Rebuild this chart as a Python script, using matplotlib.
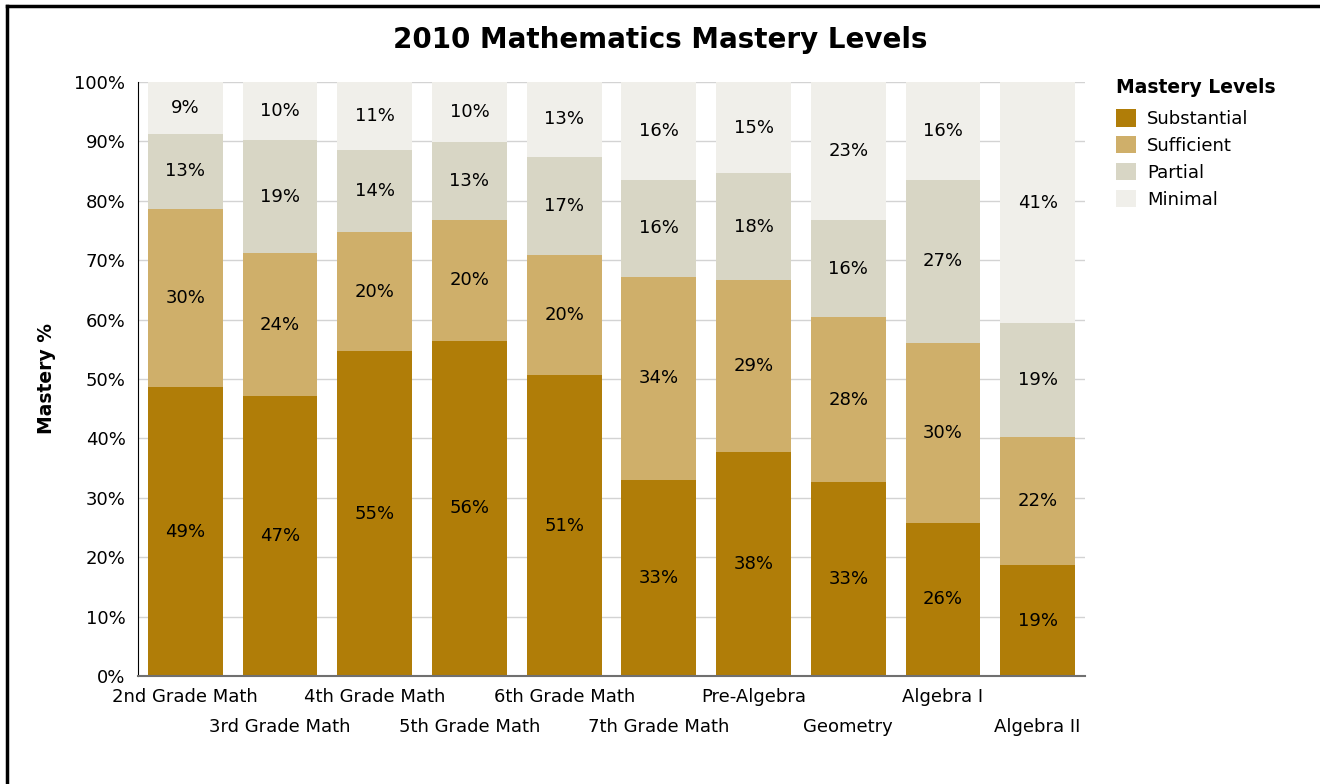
import numpy as np
import matplotlib
matplotlib.use('Agg')
import matplotlib.pyplot as plt
from matplotlib.lines import Line2D
from matplotlib.ticker import PercentFormatter

courses = ['2nd Grade Math', '3rd Grade Math', '4th Grade Math', '5th Grade Math',
           '6th Grade Math', '7th Grade Math', 'Pre-Algebra', 'Geometry',
           'Algebra I', 'Algebra II']
levels = ['Substantial', 'Sufficient', 'Partial', 'Minimal']

substantial = [48.6, 47.1, 54.7, 56.4, 50.6, 33.0, 37.7, 32.6, 25.8, 18.6]
sufficient = [30.0, 24.1, 20.0, 20.4, 20.2, 34.2, 29.0, 27.8, 30.3, 21.6]
partial = [12.7, 19.0, 13.9, 13.1, 16.6, 16.3, 17.9, 16.3, 27.4, 19.2]
minimal = [8.7, 9.8, 11.4, 10.1, 12.6, 16.5, 15.4, 23.3, 16.5, 40.6]

colors = ['#B07D08', '#CFAF6A', '#D8D6C5', '#F0EFEA']

fig = plt.figure(figsize=(13.2, 7.84), dpi=100)
ax = fig.add_axes([0.1045, 0.1378, 0.7175, 0.7576])

x = np.arange(len(courses))
bottom = np.zeros(len(courses))
for name, vals, c in zip(levels, [substantial, sufficient, partial, minimal], colors):
    vals = np.array(vals)
    ax.bar(x, vals, 0.79, bottom=bottom, color=c, label=name, zorder=2)
    for xi, b, v in zip(x, bottom, vals):
        ax.text(xi, b + v / 2, '%d%%' % round(v), ha='center', va='center',
                fontsize=13, color='black', zorder=3)
    bottom += vals

ax.set_xlim(-0.5, len(courses) - 0.5)
ax.set_ylim(0, 100)
ax.set_yticks(np.arange(0, 101, 10))
ax.yaxis.set_major_formatter(PercentFormatter(decimals=0))
ax.tick_params(axis='y', length=0, labelsize=13, pad=9)
ax.tick_params(axis='x', length=0)
ax.set_xticks(x)
ax.set_xticklabels([])
for xi, name in zip(x, courses):
    ax.annotate(name, (xi, 0), xytext=(0, -15 if xi % 2 == 0 else -37),
                textcoords='offset points', xycoords=('data', 'axes fraction'),
                ha='center', va='center', fontsize=13, annotation_clip=False)
ax.yaxis.grid(True, color='#D3D3D3', linewidth=1, zorder=0)
ax.set_axisbelow(True)
for s in ['top', 'right']:
    ax.spines[s].set_visible(False)
ax.spines['left'].set_color('black')
ax.spines['bottom'].set_color('#707070')
ax.spines['bottom'].set_linewidth(1.5)
ax.set_ylabel('Mastery %', fontsize=13.5, fontweight='bold', labelpad=13)

fig.suptitle('2010 Mathematics Mastery Levels', x=0.5, y=0.967, fontsize=20,
             fontweight='bold')

leg = fig.legend(loc='upper left', bbox_to_anchor=(0.836, 0.917), frameon=False,
                 title='Mastery Levels', fontsize=13, handlelength=1.1,
                 handleheight=1.1, handletextpad=0.6, labelspacing=0.45,
                 borderpad=0.2)
leg.get_title().set_fontweight('bold')
leg.get_title().set_fontsize(13.5)
leg._legend_box.align = 'left'
leg._legend_box.sep = 9

# border lines on left and top
fig.add_artist(Line2D([0.0053, 0.0053], [0, 0.9925], transform=fig.transFigure,
                      color='black', linewidth=2.5))
fig.add_artist(Line2D([0.0053, 1], [0.9925, 0.9925], transform=fig.transFigure,
                      color='black', linewidth=2.5))

fig.savefig('out.png', dpi=100)
